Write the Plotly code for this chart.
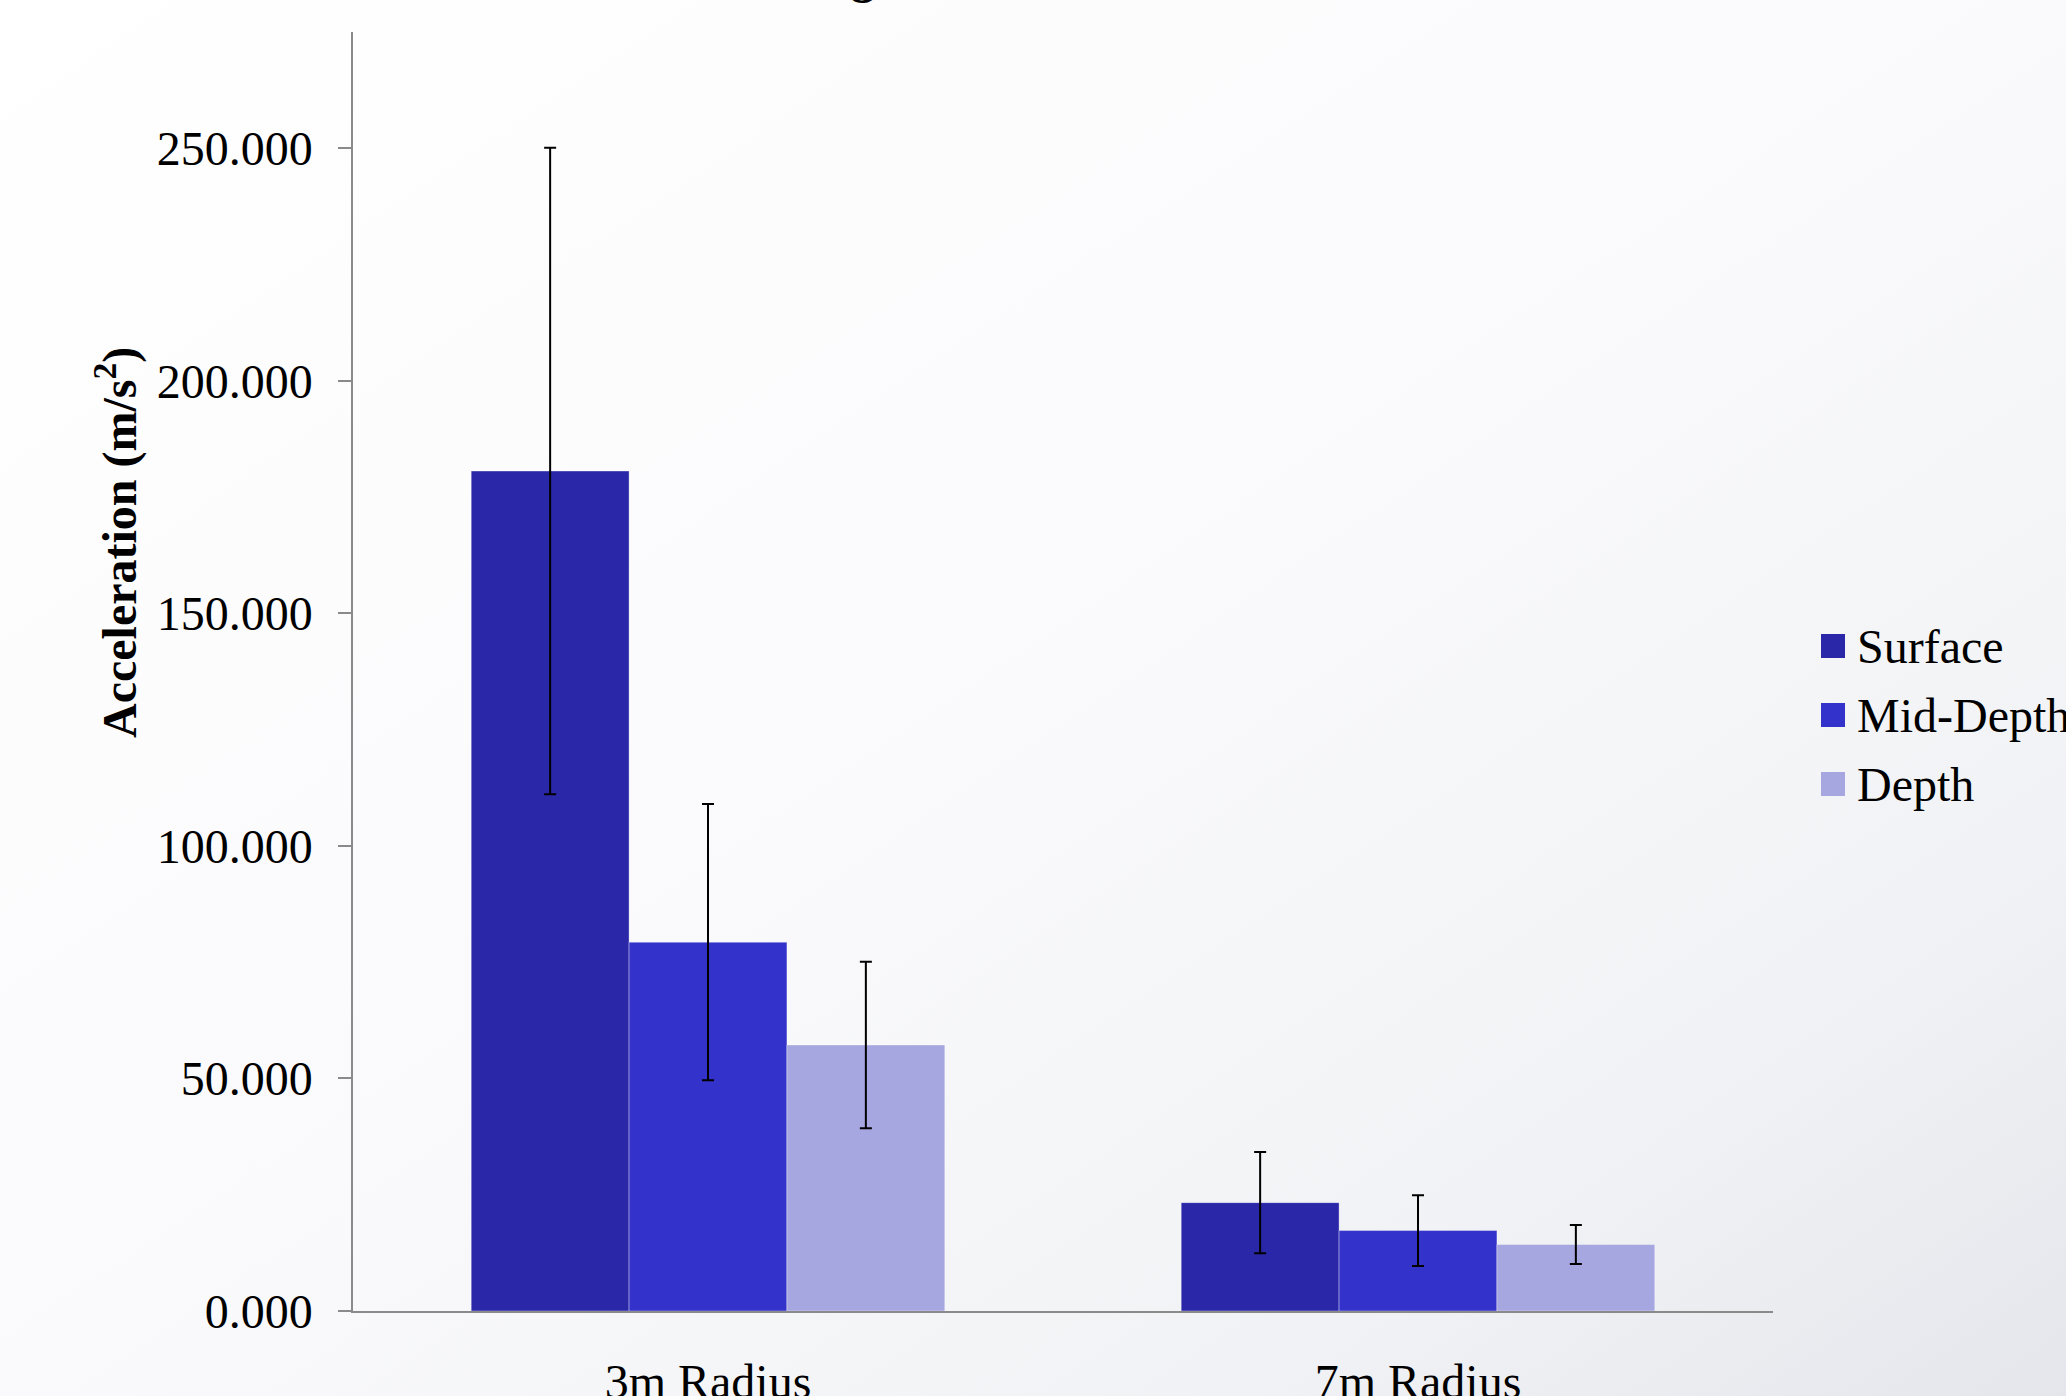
import plotly.graph_objects as go
import urllib.parse

# ---- data ----
categories = ["3m Radius", "7m Radius"]
series_names = ["Surface", "Mid-Depth", "Depth"]
surface = [180.6, 23.3]
surface_err = [69.5, 10.9]
mid_depth = [79.3, 17.3]
mid_depth_err = [29.7, 7.6]
depth = [57.2, 14.3]
depth_err = [17.9, 4.2]
y_tick_vals = [0, 50, 100, 150, 200, 250]

colors = ["#2A28A8", "#3333CC", "#A6A6E0"]
values = [surface, mid_depth, depth]
errors = [surface_err, mid_depth_err, depth_err]

W, H = 2066, 1396
ML, MR, MT, MB = 353, 293, 32, 85
PW, PH = W - ML - MR, H - MT - MB
FONT = "Liberation Serif"

fig = go.Figure()
for name, vals, errs, col in zip(series_names, values, errors, colors):
    fig.add_trace(go.Bar(
        name=name, x=categories, y=vals,
        marker=dict(color=col, line=dict(color="rgba(255,255,255,0.35)", width=1)),
        error_y=dict(type="data", array=errs, visible=True, color="black",
                     thickness=2, width=6),
        showlegend=False,
    ))

# background gradient
svg = (f'<svg xmlns="http://www.w3.org/2000/svg" width="{W}" height="{H}">'
       '<defs><linearGradient id="g" x1="0" y1="0" x2="1" y2="1">'
       '<stop offset="0" stop-color="#FFFFFF"/>'
       '<stop offset="0.5" stop-color="#FAFAFC"/>'
       '<stop offset="0.8" stop-color="#F1F2F5"/>'
       '<stop offset="1" stop-color="#E5E6EB"/>'
       '</linearGradient></defs>'
       f'<rect width="{W}" height="{H}" fill="url(#g)"/></svg>')
src = "data:image/svg+xml;charset=utf-8," + urllib.parse.quote(svg)

images = [dict(source=src, xref="paper", yref="paper",
               x=-ML / PW, y=1 + MT / PH, sizex=W / PW, sizey=H / PH,
               sizing="stretch", layer="below", xanchor="left", yanchor="top")]


def px_x(px):
    return (px - ML) / PW


def px_y(py):
    return (MT + PH - py) / PH


# manual legend (larger squares like the original)
shapes = []
annotations = []
leg_x0 = 1821
sq = 24
row_y = [646, 715, 784]
for name, col, py in zip(series_names, colors, row_y):
    shapes.append(dict(type="rect", xref="paper", yref="paper",
                       x0=px_x(leg_x0), x1=px_x(leg_x0 + sq),
                       y0=px_y(py + sq / 2), y1=px_y(py - sq / 2),
                       fillcolor=col, line=dict(width=0)))
    annotations.append(dict(text=name, xref="paper", yref="paper",
                            x=px_x(1855), y=px_y(py),
                            xanchor="left", yanchor="middle", showarrow=False,
                            font=dict(family=FONT, size=48, color="black")))

# chart title, mostly above the visible page as in the original
annotations.append(dict(text="<b>Average Acceleration</b>", xref="paper", yref="paper",
                        x=px_x(946), y=px_y(5), xanchor="center",
                        yanchor="bottom", showarrow=False,
                        font=dict(family=FONT, size=48, color="black")))

# y axis title (placed off-centre as in the original)
annotations.append(dict(text="<b>Acceleration (m/s<sup>2</sup>)</b>", xref="paper", yref="paper",
                        x=px_x(116), y=px_y(543), xanchor="center", yanchor="middle",
                        textangle=-90, showarrow=False,
                        font=dict(family=FONT, size=48, color="black")))

fig.update_layout(
    width=W, height=H,
    margin=dict(l=ML, r=MR, t=MT, b=MB, pad=0, autoexpand=False),
    paper_bgcolor="white", plot_bgcolor="rgba(0,0,0,0)",
    barmode="group", bargap=0.333, bargroupgap=0,
    font=dict(family=FONT, size=48, color="black"),
    images=images, shapes=shapes, annotations=annotations,
    xaxis=dict(showgrid=False, showline=True, linecolor="#8A8A8A", linewidth=2,
               ticks="", tickfont=dict(family=FONT, size=48, color="black"),
               ticklabelstandoff=27, zeroline=False, automargin=False),
    yaxis=dict(range=[0, 275], tickvals=y_tick_vals, tickformat=".3f",
               showgrid=False, showline=True, linecolor="#8A8A8A", linewidth=1.5,
               ticks="outside", ticklen=13, tickcolor="#8A8A8A", tickwidth=1.5,
               ticklabelstandoff=16, zeroline=False, automargin=False,
               tickfont=dict(family=FONT, size=48, color="black")),
)

fig.write_html("out.html")
